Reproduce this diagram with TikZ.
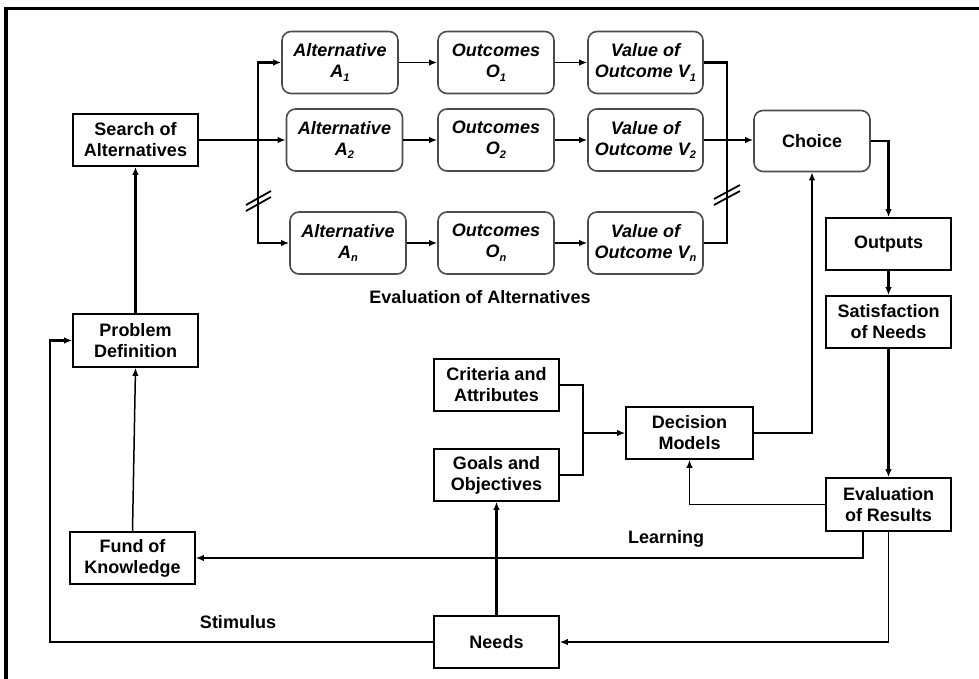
\documentclass[tikz,border=0pt]{standalone}
\usepackage{fontspec}
\setmainfont{Liberation Sans}
\usetikzlibrary{arrows.meta}
\newcommand{\idx}[1]{\raisebox{-0.4ex}{\fontsize{11}{11}\selectfont #1}}
\begin{document}
\begin{tikzpicture}[x=1pt,y=-1pt,
  every node/.style={font=\fontsize{18}{21}\selectfont\bfseries, align=center, inner sep=0pt},
  sqbox/.style={draw=black, line width=1.6pt, rectangle, minimum width=125pt, minimum height=52pt},
  rbox/.style={draw=black!70, line width=1.6pt, rectangle, rounded corners=9pt, minimum width=116pt, minimum height=62pt, font=\fontsize{18}{21}\selectfont\bfseries\itshape},
  heavy/.style={line width=2.9pt},
  light/.style={line width=1.5pt},
  tip/.style={-{Latex[length=8pt,width=6.5pt]}},
  tips/.style={{Latex[length=8pt,width=6.5pt]}-{Latex[length=8pt,width=6.5pt]}},
  label/.style={font=\fontsize{18}{21}\selectfont\bfseries}
]
\useasboundingbox (0,0) rectangle (979,679);
% frame
\draw[line width=3.5pt] (979,8.5) -- (6,8.5) -- (6,679);

% left column
\node[sqbox] (search) at (135.5,140) {Search of\\Alternatives};
\node[sqbox, minimum height=53pt] (problem) at (135.5,340.5) {Problem\\Definition};
\node[sqbox] (fund) at (132.5,558) {Fund of\\Knowledge};

% alternatives, outcomes and their values
\node[rbox] (A1) at (340,62.5) {Alternative\\A\idx{1}};
\node[rbox] (O1) at (496,62.5) {Outcomes\\O\idx{1}};
\node[rbox, minimum width=115pt] (V1) at (645.5,62.5) {Value of\\Outcome V\idx{1}};
\node[rbox] (A2) at (344.5,140) {Alternative\\A\idx{2}};
\node[rbox] (O2) at (496,140) {Outcomes\\O\idx{2}};
\node[rbox, minimum width=115pt] (V2) at (645.5,140) {Value of\\Outcome V\idx{2}};
\node[rbox] (An) at (348,243) {Alternative\\A\idx{\itshape n}};
\node[rbox] (On) at (496,243) {Outcomes\\O\idx{\itshape n}};
\node[rbox, minimum width=115pt] (Vn) at (645.5,243) {Value of\\Outcome V\idx{\itshape n}};

\node[label] (evallbl) at (480,297) {Evaluation of Alternatives};

% right column
\node[rbox, minimum width=116pt, minimum height=61pt, font=\fontsize{18}{21}\selectfont\bfseries] (choice) at (812,141) {Choice};
\node[sqbox] (outputs) at (888.5,244) {Outputs};
\node[sqbox] (satisf) at (888.5,322) {Satisfaction\\of Needs};
\node[sqbox, minimum height=53pt] (evalres) at (888.5,504.5) {Evaluation\\of Results};

% decision models
\node[sqbox] (criteria) at (496.5,385) {Criteria and\\Attributes};
\node[sqbox] (goals) at (496.5,475) {Goals and\\Objectives};
\node[sqbox, minimum width=127pt] (decision) at (689.5,433) {Decision\\Models};
\node[sqbox] (needs) at (496.5,642) {Needs};

\node[label] (learnlbl) at (666,539) {Learning};
\node[label] (stimlbl) at (238,622) {Stimulus};

% branching bus
\coordinate (busL) at (258,0);
\coordinate (busR) at (727,0);
\draw[heavy, tip] (search.east) -- (A2.west);
\draw[heavy, tips] (An.west) -- (busL |- An.west) -- (busL |- A1.west) -- (A1.west);
\draw[line width=1.8pt] (246,205) -- (271,191) (246,211) -- (271,197);

% rows
\foreach \r in {1,2,n} {
  \draw[light, tip] (A\r.east) -- (O\r.west |- A\r.east);
  \draw[light, tip] (O\r.east) -- (V\r.west |- O\r.east);
}

% merging bus into choice
\draw[heavy] (V1.east) -- (busR |- V1.east) -- (busR |- Vn.east) -- (Vn.east);
\draw[heavy, tip] (V2.east) -- (choice.west |- V2.east);
\draw[line width=1.8pt] (714,199) -- (740,185) (714,205) -- (740,191);

% downstream chain
\draw[heavy, tip] (choice.east) -| (outputs.north);
\draw[heavy, tip] (outputs.south) -- (satisf.north);
\draw[heavy, tip] (satisf.south) -- (evalres.north);

% decision models
\coordinate (join) at (583,0);
\draw[heavy] (criteria.east) -- (join |- criteria.east) -- (join |- goals.east) -- (goals.east);
\draw[heavy, tip] (join |- decision.west) -- (decision.west);
\draw[heavy, tip] (decision.east) -| (choice.south);
\draw[light, tip] (evalres.west) -| (decision.south);

% feedback loops
\draw[light, tip] ([xshift=-25.5pt]evalres.south) |- (fund.east);
\draw[light, tip] (evalres.south) |- (needs.east);
\draw[heavy, tip] (needs.north) -- (goals.south);
\draw[heavy, tip] (needs.west) -- (50,642) |- (problem.west);
\draw[light, tip] (fund.north) -- (problem.south);
\draw[heavy, tip] (problem.north) -- (search.south);
\end{tikzpicture}
\end{document}
